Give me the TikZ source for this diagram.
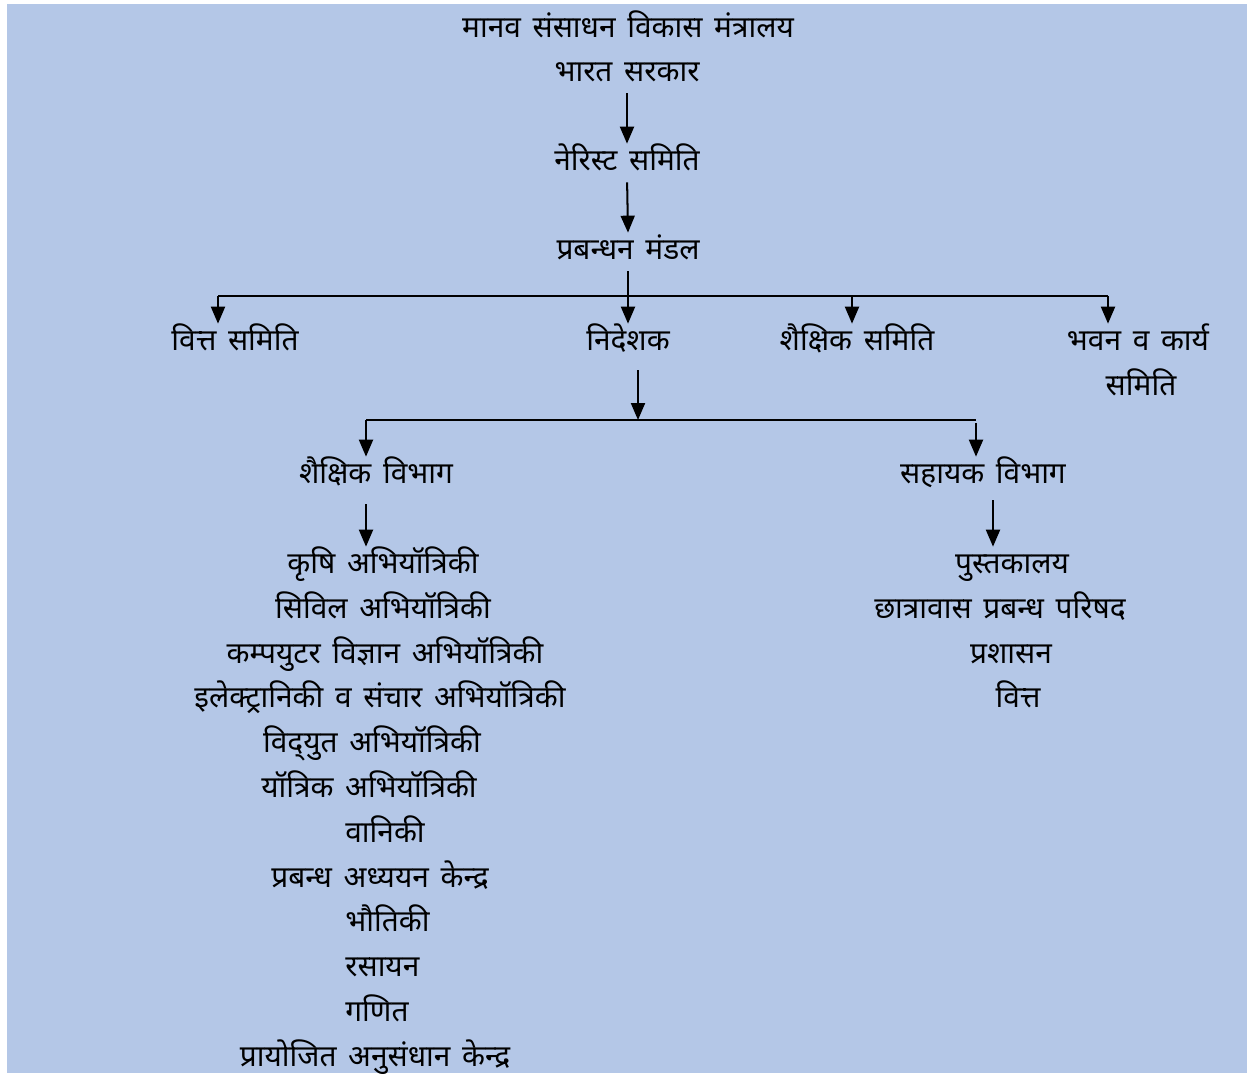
\documentclass[tikz,border=0pt]{standalone}
\usepackage{fontspec}
\newfontfamily\deva[Script=Devanagari,WordSpace=1.5]{Noto Sans}
\usetikzlibrary{arrows.meta}
\definecolor{panel}{HTML}{B4C7E7}

\begin{document}
\begin{tikzpicture}[x=0.02cm,y=-0.02cm,
  lbl/.style={font=\deva\fontsize{17}{19}\selectfont,inner sep=0pt,text height=0.4cm,text depth=0cm,minimum height=0.64cm},
  arr/.style={line width=1.15pt,-{Triangle[width=0.28cm,length=0.34cm]},shorten <=0.12cm},
  bar/.style={line width=0.85pt}]
\useasboundingbox (0,0) rectangle (1247,1073);
\fill[white] (0,0) rectangle (1247,1073);
\fill[panel] (7,4) rectangle (1247,1073);

\node[lbl] (mhrd) at (628,27) {मानव संसाधन विकास मंत्रालय};
\node[lbl] (goi) at (627,71) {भारत सरकार};
\node[lbl] (nerist) at (627,160) {नेरिस्ट समिति};
\node[lbl] (board) at (628,249) {प्रबन्धन मंडल};

\node[lbl] (fincom) at (235,340) {वित्त समिति};
\node[lbl] (director) at (628,340) {निदेशक};
\node[lbl] (acadcom) at (857,340) {शैक्षिक समिति};
\node[lbl] (bldg) at (1138,340) {भवन व कार्य};
\node[lbl] (bldgb) at (1141,385) {समिति};

\node[lbl] (acaddept) at (376,473) {शैक्षिक विभाग};
\node[lbl] (suppdept) at (983,473) {सहायक विभाग};

\node[lbl] (agri) at (383,563) {कृषि अभियॉत्रिकी};
\node[lbl] (civil) at (383,608) {सिविल अभियॉत्रिकी};
\node[lbl] (cse) at (385,653) {कम्पयुटर विज्ञान अभियॉत्रिकी};
\node[lbl] (ece) at (380,697) {इलेक्ट्रानिकी व संचार अभियॉत्रिकी};
\node[lbl] (elec) at (372,742) {विद्^^^^200cयुत अभियॉत्रिकी};
\node[lbl] (mech) at (369,787) {यॉत्रिक अभियॉत्रिकी};
\node[lbl,anchor=west] (forestry) at (345,832) {वानिकी};
\node[lbl] (mgmt) at (380,877) {प्रबन्ध अध्ययन केन्द्र};
\node[lbl,anchor=west] (phys) at (345,921) {भौतिकी};
\node[lbl,anchor=west] (chem) at (345,966) {रसायन};
\node[lbl,anchor=west] (math) at (345,1011) {गणित};
\node[lbl] (sponsored) at (375,1056) {प्रायोजित अनुसंधान केन्द्र};

\node[lbl] (lib) at (1012,563) {पुस्तकालय};
\node[lbl] (hostel) at (1000,608) {छात्रावास प्रबन्ध परिषद};
\node[lbl] (admin) at (1011,653) {प्रशासन};
\node[lbl] (finance) at (1018,697) {वित्त};

\coordinate (topL) at (218,296);
\coordinate (topC) at (852,296);
\coordinate (topR) at (1108,296);
\coordinate (midL) at (366,420);
\coordinate (midM) at (638,420);
\coordinate (midR) at (976,420);
\coordinate (rv) at (993,520);

\draw[arr] (goi.south) -- (nerist.north);
\draw[arr] (nerist.south) -- (board.north);
\draw[arr] (board.south) -- (director.north);
\draw[bar] (topL) -- (topR);
\draw[arr,shorten <=0pt] (topL) -- (topL |- fincom.north);
\draw[arr,shorten <=0pt] (topC) -- (topC |- acadcom.north);
\draw[arr,shorten <=0pt] (topR) -- (topR |- bldg.north);

\draw[arr,shorten <=0.28cm] (director.south -| midM) -- (midM);
\draw[bar] (midL) -- (midR);
\draw[arr,shorten <=0pt] (midL) -- (midL |- acaddept.north);
\draw[arr,shorten <=0.06cm] (midR) -- (midR |- suppdept.north);

\draw[arr,shorten <=0.3cm] (acaddept.south -| midL) -- (midL |- agri.north);
\draw[arr,shorten <=0.22cm] (suppdept.south -| rv) -- (lib.north -| rv);
\end{tikzpicture}
\end{document}
